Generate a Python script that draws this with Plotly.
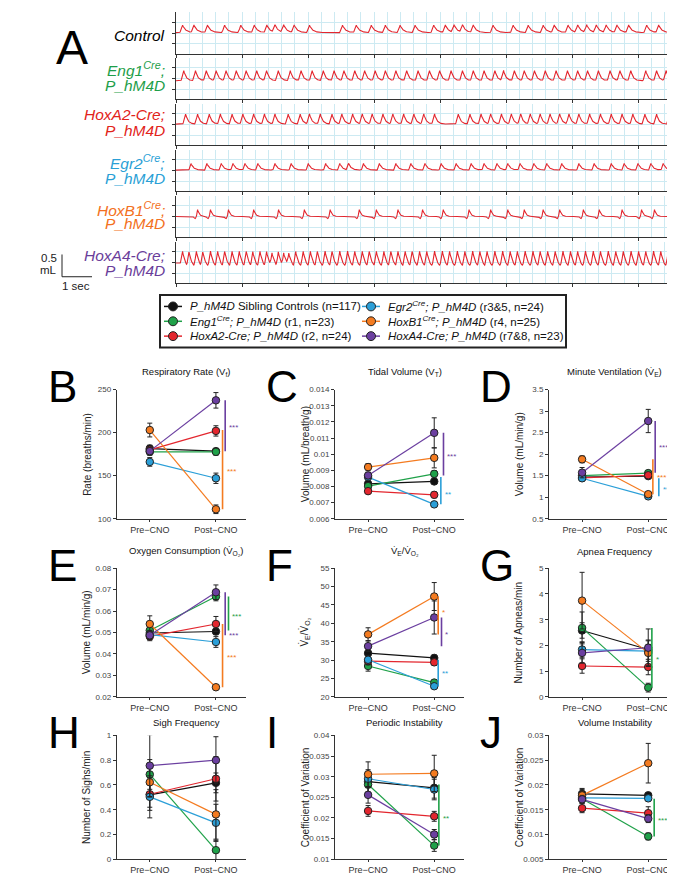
import numpy as np
import plotly.graph_objects as go

W, H = 675, 875
FONT = "Liberation Sans, Arial, Helvetica, sans-serif"

# ---------------- Panel A: breath peak times (s) ----------------
trace_peaks = [
    [0.22, 0.60, 1.05, 1.62, 2.16, 2.61, 3.03, 3.30, 3.59, 3.94, 4.45, 5.55, 6.01, 6.51, 6.98,
     7.47, 7.97, 8.59, 8.98, 9.27, 9.55, 9.91, 10.57, 11.24, 11.74, 12.24, 12.61, 13.07, 13.39,
     13.69, 14.01, 14.34, 14.70, 15.09, 15.69, 16.09, 16.52],
    [0.26, 0.65, 1.01, 1.34, 1.67, 2.01, 2.34, 2.69, 3.02, 3.41, 3.81, 4.17, 4.54, 4.91, 5.27,
     5.60, 5.96, 6.29, 6.64, 6.98, 7.33, 7.69, 8.07, 8.45, 8.79, 9.17, 9.55, 9.91, 10.27, 10.63,
     10.92, 11.28, 11.61, 11.95, 12.31, 12.67, 13.05, 13.39, 13.72, 14.08, 14.47, 14.80, 15.16,
     15.66, 16.02, 16.34, 16.67],
    [0.32, 0.72, 1.11, 1.48, 1.87, 2.23, 2.59, 2.95, 3.30, 3.74, 4.14, 4.45, 4.81, 5.20, 5.53,
     5.89, 6.21, 6.54, 6.90, 7.23, 7.59, 7.93, 8.26, 8.62, 9.41, 9.80, 10.17, 10.49, 10.85,
     11.18, 11.49, 11.81, 12.14, 12.47, 12.79, 13.10, 13.43, 13.79, 14.15, 14.51, 14.87, 15.23,
     15.63, 16.02, 16.45, 16.81],
    [0.50, 1.03, 1.51, 1.90, 2.30, 2.73, 3.30, 3.84, 4.41, 4.99, 5.46, 5.75, 6.25, 6.78, 7.33,
     7.83, 8.30, 8.84, 9.34, 9.84, 10.27, 10.70, 11.06, 11.47, 11.93, 12.36, 12.86, 13.43,
     13.94, 14.51, 14.94, 15.40, 15.83, 16.24, 16.67],
    [0.72, 1.15, 1.75, 2.59, 3.42, 4.28, 5.14, 6.11, 6.68, 7.40, 8.22, 8.91, 9.77, 10.49, 11.06,
     11.61, 12.24, 12.79, 13.58, 14.11, 14.87, 15.52, 15.95, 16.81],
    [0.22, 0.43, 0.68, 0.89, 1.15, 1.39, 1.62, 1.87, 2.11, 2.34, 2.56, 2.80, 3.02, 3.20, 3.41,
     3.59, 3.76, 3.99, 4.24, 4.48, 4.71, 4.97, 5.20, 5.46, 5.72, 5.96, 6.21, 6.44, 6.68, 6.93,
     7.16, 7.40, 7.64, 7.87, 8.12, 8.36, 8.62, 8.88, 9.12, 9.38, 9.63, 9.89, 10.13, 10.37,
     10.63, 10.89, 11.14, 11.38, 11.64, 11.90, 12.14, 12.39, 12.64, 12.90, 13.15, 13.39, 13.65,
     13.91, 14.15, 14.41, 14.66, 14.91, 15.17, 15.42, 15.66, 15.92, 16.16, 16.41, 16.67],
]
trace_amp = [0.17, 0.23, 0.23, 0.15, 0.16, 0.27]      # peak height (mL)
trace_base = [0.01, -0.05, 0.01, 0.0, -0.01, -0.02]    # baseline (mL)

trace_label_lines = [
    ["<i>Control</i>"],
    ["<i>Eng1<sup>Cre</sup>;</i>", "<i>P_hM4D</i>"],
    ["<i>HoxA2-Cre;</i>", "<i>P_hM4D</i>"],
    ["<i>Egr2<sup>Cre</sup>;</i>", "<i>P_hM4D</i>"],
    ["<i>HoxB1<sup>Cre</sup>;</i>", "<i>P_hM4D</i>"],
    ["<i>HoxA4-Cre;</i>", "<i>P_hM4D</i>"],
]

# ---------------- Groups ----------------
group_names = [
    "<i>P_hM4D</i> Sibling Controls (n=117)",
    "<i>Eng1<sup>Cre</sup>; P_hM4D</i> (r1, n=23)",
    "<i>HoxA2-Cre; P_hM4D</i> (r2, n=24)",
    "<i>Egr2<sup>Cre</sup>; P_hM4D</i> (r3&amp;5, n=24)",
    "<i>HoxB1<sup>Cre</sup>; P_hM4D</i> (r4, n=25)",
    "<i>HoxA4-Cre; P_hM4D</i> (r7&amp;8, n=23)",
]
group_colors = ["#111111", "#1fa149", "#e3262e", "#2b9fd8", "#f47b20", "#6b3fa0"]
label_colors = ["#000000", "#1e9e4a", "#e2231a", "#2a9fd6", "#f37021", "#6a3d9a"]
conditions = ["Pre\u2212CNO", "Post\u2212CNO"]

# order: Control, Eng1, HoxA2, Egr2, HoxB1, HoxA4
rate_pre = [181.5, 177.7, 180.0, 166.0, 203.0, 178.5]
rate_pre_se = [4, 4, 4, 5, 8, 4]
rate_post = [178.5, 177.7, 202.0, 147.0, 111.0, 237.5]
rate_post_se = [3, 4, 6, 6, 5, 9]

tv_pre = [0.00816, 0.00802, 0.00771, 0.00858, 0.00920, 0.00868]
tv_pre_se = [0.00015, 0.00015, 0.00012, 0.0002, 0.00022, 0.0002]
tv_post = [0.00831, 0.00878, 0.00748, 0.00689, 0.00977, 0.01132]
tv_post_se = [0.00015, 0.0002, 0.00018, 0.00012, 0.00062, 0.00093]

mv_pre = [1.47, 1.50, 1.45, 1.44, 1.88, 1.57]
mv_pre_se = [0.05, 0.05, 0.05, 0.06, 0.08, 0.12]
mv_post = [1.49, 1.56, 1.51, 1.02, 1.07, 2.77]
mv_post_se = [0.05, 0.06, 0.06, 0.04, 0.05, 0.27]

vo2_pre = [0.0498, 0.0510, 0.0482, 0.0490, 0.0540, 0.0487]
vo2_pre_se = [0.0015, 0.002, 0.002, 0.002, 0.0038, 0.002]
vo2_post = [0.0505, 0.0668, 0.0540, 0.0456, 0.0245, 0.0688]
vo2_post_se = [0.0015, 0.002, 0.0035, 0.0025, 0.001, 0.0034]

ratio_pre = [31.9, 28.4, 29.7, 30.1, 37.0, 33.8]
ratio_pre_se = [1.0, 1.4, 1.0, 1.2, 1.8, 1.5]
ratio_post = [30.6, 23.9, 29.4, 22.9, 47.3, 41.6]
ratio_post_se = [0.8, 0.6, 0.8, 0.6, 3.8, 4.5]

apnea_pre = [2.58, 2.68, 1.20, 1.84, 3.74, 1.71]
apnea_pre_se = [0.3, 0.62, 0.28, 0.3, 1.1, 0.4]
apnea_post = [1.84, 0.36, 1.16, 1.78, 1.71, 1.91]
apnea_post_se = [0.2, 0.17, 0.3, 0.4, 0.5, 0.73]

sigh_pre = [0.52, 0.685, 0.525, 0.504, 0.622, 0.756]
sigh_pre_se = [0.1, 0.12, 0.13, 0.17, 0.12, 0.25]
sigh_post = [0.617, 0.073, 0.65, 0.294, 0.362, 0.80]
sigh_post_se = [0.08, 0.08, 0.18, 0.15, 0.2, 0.19]

pi_pre = [0.0288, 0.0281, 0.0217, 0.0295, 0.0306, 0.0256]
pi_pre_se = [0.0025, 0.0025, 0.0013, 0.0022, 0.003, 0.002]
pi_post = [0.0273, 0.0133, 0.0204, 0.0269, 0.0308, 0.0160]
pi_post_se = [0.0025, 0.0014, 0.0012, 0.0025, 0.0044, 0.0012]

vi_pre = [0.0182, 0.0172, 0.0153, 0.0174, 0.0179, 0.0171]
vi_pre_se = [0.0011, 0.0008, 0.0009, 0.0008, 0.0012, 0.0008]
vi_post = [0.0179, 0.0096, 0.0143, 0.0173, 0.0244, 0.0132]
vi_post_se = [0.0006, 0.0007, 0.0013, 0.0005, 0.004, 0.0008]

# significance: (group index, stars, bar x offset, star position along bar from pre to post)
panels = [
    dict(letter="B", title="Respiratory Rate (V<sub>f</sub>)", ytitle="Rate (breaths/min)",
         pre=rate_pre, pre_se=rate_pre_se, post=rate_post, post_se=rate_post_se,
         yrange=[100, 250], tickvals=[100, 150, 200, 250], ticktext=["100", "150", "200", "250"],
         sig=[(4, "***", 0.10, 0.5), (5, "***", 0.14, 0.5)]),
    dict(letter="C", title="Tidal Volume (V<sub>T</sub>)", ytitle="Volume (mL/breath/g)",
         pre=tv_pre, pre_se=tv_pre_se, post=tv_post, post_se=tv_post_se,
         yrange=[0.006, 0.014],
         tickvals=[0.006, 0.007, 0.008, 0.009, 0.010, 0.011, 0.012, 0.013, 0.014],
         ticktext=["0.006", "0.007", "0.008", "0.009", "0.01", "0.011", "0.012", "0.013", "0.014"],
         sig=[(3, "**", 0.10, 0.55), (5, "***", 0.14, 0.5)]),
    dict(letter="D", title="Minute Ventilation (V\u0307<sub>E</sub>)", ytitle="Volume (mL/min/g)",
         pre=mv_pre, pre_se=mv_pre_se, post=mv_post, post_se=mv_post_se,
         yrange=[0.5, 3.5], tickvals=[0.5, 1, 1.5, 2, 2.5, 3, 3.5],
         ticktext=["0.5", "1", "1.5", "2", "2.5", "3", "3.5"],
         sig=[(4, "***", 0.07, 0.46), (5, "***", 0.105, 0.52), (3, "**", 0.16, 0.5)]),
    dict(letter="E", title="Oxygen Consumption (V\u0307<sub>O\u2082</sub>)", ytitle="Volume (mL/min/g)",
         pre=vo2_pre, pre_se=vo2_pre_se, post=vo2_post, post_se=vo2_post_se,
         yrange=[0.02, 0.08], tickvals=[0.02, 0.03, 0.04, 0.05, 0.06, 0.07, 0.08],
         ticktext=["0.02", "0.03", "0.04", "0.05", "0.06", "0.07", "0.08"],
         sig=[(4, "***", 0.10, 0.5), (5, "***", 0.14, 0.04), (1, "***", 0.19, 0.48)]),
    dict(letter="F", title="V\u0307<sub>E</sub>/V\u0307<sub>O\u2082</sub>",
         ytitle="V\u0307<sub>E</sub>/V\u0307<sub>O\u2082</sub>",
         pre=ratio_pre, pre_se=ratio_pre_se, post=ratio_post, post_se=ratio_post_se,
         yrange=[20, 55], tickvals=[20, 25, 30, 35, 40, 45, 50, 55],
         ticktext=["20", "25", "30", "35", "40", "45", "50", "55"],
         sig=[(4, "*", 0.06, 0.63), (5, "*", 0.11, 0.49), (3, "**", 0.06, 0.46)]),
    dict(letter="G", title="Apnea Frequency", ytitle="Number of Apneas/min",
         pre=apnea_pre, pre_se=apnea_pre_se, post=apnea_post, post_se=apnea_post_se,
         yrange=[0, 5], tickvals=[0, 1, 2, 3, 4, 5], ticktext=["0", "1", "2", "3", "4", "5"],
         sig=[(1, "*", 0.055, 0.5)]),
    dict(letter="H", title="Sigh Frequency", ytitle="Number of Sighs/min",
         pre=sigh_pre, pre_se=sigh_pre_se, post=sigh_post, post_se=sigh_post_se,
         yrange=[0, 1], tickvals=[0, 0.2, 0.4, 0.6, 0.8, 1],
         ticktext=["0", "0.2", "0.4", "0.6", "0.8", "1"], sig=[]),
    dict(letter="I", title="Periodic Instability", ytitle="Coefficient of Variation",
         pre=pi_pre, pre_se=pi_pre_se, post=pi_post, post_se=pi_post_se,
         yrange=[0.01, 0.04], tickvals=[0.01, 0.015, 0.02, 0.025, 0.03, 0.035, 0.04],
         ticktext=["0.01", "0.015", "0.02", "0.025", "0.03", "0.035", "0.04"],
         sig=[(1, "**", 0.07, 0.52)]),
    dict(letter="J", title="Volume Instability", ytitle="Coefficient of Variation",
         pre=vi_pre, pre_se=vi_pre_se, post=vi_post, post_se=vi_post_se,
         yrange=[0.005, 0.03], tickvals=[0.005, 0.01, 0.015, 0.02, 0.025, 0.03],
         ticktext=["0.005", "0.01", "0.015", "0.02", "0.025", "0.03"],
         sig=[(1, "***", 0.09, 0.53)]),
]

# ---------------- helpers / styles ----------------
def X(px):
    return px / W


def Y(py):
    return 1 - py / H


def axname(n):
    return "" if n == 1 else str(n)


GRID = "#cdeaf2"
AXC = "#333333"
TRACE_RED = "#e3262e"
# breath waveform style per row: (rise s, decay tau s, undershoot, pre-dip)
wave_style = [(0.10, 0.10, 0.0, 0.0), (0.10, 0.08, 0.0, 0.0), (0.10, 0.08, 0.0, 0.0),
              (0.08, 0.09, 0.0, 0.0), (0.05, 0.06, 0.0, 0.3), (0.08, 0.06, 0.25, 0.0)]

fig = go.Figure()
layout = dict(width=W, height=H, margin=dict(l=0, r=0, t=0, b=0),
              paper_bgcolor="white", plot_bgcolor="white", showlegend=False,
              hovermode=False, font=dict(family=FONT, color="#222"))
ann = []
shapes = []

# ---------------- Panel A traces ----------------
row_tops = [0.5, 46.5, 93, 139, 185.5, 232]
row_h = 41.5
trace_left = 168
t = np.round(np.arange(0, 16.905, 0.01), 3)
for i in range(6):
    n = i + 1
    a = axname(n)
    rise, tau, under, predip = wave_style[i]
    amp = trace_amp[i]
    y = np.full(t.shape, float(trace_base[i]))
    for p in trace_peaks[i]:
        u = t - p
        m = (u > -rise) & (u <= 0)
        y[m] += amp * (1 + u[m] / rise) ** 1.3
        m = u > 0
        y[m] += amp * np.exp(-u[m] / tau)
        if under:
            y += -under * amp * np.exp(-((u - 2.5 * tau) / tau) ** 2)
        if predip:
            y += -predip * amp * np.exp(-((u + rise + 0.04) / 0.04) ** 2)
    fig.add_trace(go.Scatter(x=t, y=y, mode="lines", line=dict(color=TRACE_RED, width=1.1),
                             xaxis="x" + a, yaxis="y" + a, hoverinfo="skip"))
    top = row_tops[i]
    layout["xaxis" + a] = dict(domain=[X(trace_left), 1], range=[0, 16.9], anchor="y" + a,
                               showline=True, linecolor=AXC, linewidth=1, ticks="outside",
                               ticklen=3, tickcolor=AXC, tick0=0, dtick=2.2,
                               showticklabels=False, showgrid=True, gridcolor=GRID, gridwidth=1,
                               minor=dict(dtick=0.44, showgrid=True, gridcolor=GRID, ticks=""),
                               zeroline=False, fixedrange=True)
    layout["yaxis" + a] = dict(domain=[Y(top + row_h), Y(top)], range=[-0.47, 0.47],
                               anchor="x" + a, showline=True, linecolor=AXC, linewidth=1,
                               ticks="outside", ticklen=3, tickcolor=AXC, tick0=0, dtick=0.25,
                               showticklabels=False, showgrid=True, gridcolor=GRID,
                               zeroline=False, fixedrange=True)

# trace labels
label_y = [[23.3], [57.3, 74.0], [104.0, 120.0], [151.7, 168.3], [199.3, 214.0], [246.0, 260.7]]
for i, lines in enumerate(trace_label_lines):
    for txt, yy in zip(lines, label_y[i]):
        ann.append(dict(text=txt, x=X(159), y=Y(yy), xref="paper", yref="paper",
                        xanchor="right", yanchor="middle", showarrow=False,
                        font=dict(size=15.5, color=label_colors[i], family=FONT)))

ann.append(dict(text="A", x=X(63.5), y=Y(36), xref="paper", yref="paper", xanchor="center",
                yanchor="middle", showarrow=False, font=dict(size=48, color="black", family=FONT)))

# scale bar
shapes.append(dict(type="line", xref="paper", yref="paper", x0=X(54), x1=X(54), y0=Y(245), y1=Y(267.5),
                   line=dict(color="#222", width=1)))
shapes.append(dict(type="line", xref="paper", yref="paper", x0=X(54), x1=X(84), y0=Y(267.5), y1=Y(267.5),
                   line=dict(color="#222", width=1)))
for txt, xx, yy, anc in [("0.5", 51, 249, "right"), ("mL", 51, 260.5, "right"), ("1 sec", 68, 276.5, "center")]:
    ann.append(dict(text=txt, x=X(xx), y=Y(yy), xref="paper", yref="paper", xanchor=anc,
                    yanchor="middle", showarrow=False, font=dict(size=11.5, color="#222", family=FONT)))

# ---------------- Legend (drawn) ----------------
shapes.append(dict(type="rect", xref="paper", yref="paper", x0=X(152), x1=X(558), y0=Y(339), y1=Y(286),
                   line=dict(color="#222", width=2), fillcolor="rgba(0,0,0,0)"))
leg_pos = [(165, 297.5), (165, 312.5), (165, 327.5), (363, 297.5), (363, 312.5), (363, 327.5)]
for g in range(6):
    cx, cy = leg_pos[g]
    shapes.append(dict(type="line", xref="paper", yref="paper", x0=X(cx - 9), x1=X(cx + 9),
                       y0=Y(cy), y1=Y(cy), line=dict(color=group_colors[g], width=1.5)))
    shapes.append(dict(type="circle", xref="paper", yref="paper", x0=X(cx - 4.5), x1=X(cx + 4.5),
                       y0=Y(cy + 4.5), y1=Y(cy - 4.5), fillcolor=group_colors[g],
                       line=dict(color="#222", width=1)))
    ann.append(dict(text=group_names[g], x=X(cx + 15), y=Y(cy), xref="paper", yref="paper",
                    xanchor="left", yanchor="middle", showarrow=False,
                    font=dict(size=11.5, color="#111", family=FONT)))

# ---------------- Panels B-J ----------------
col_left = [108.7, 327.0, 541.0]
col_w = 129.0
row_span = [(381.5, 512.0), (562.0, 692.0), (731.0, 856.0)]
title_y = [363.5, 545.0, 718.0]
title_dx = [5, 5, 1]
draw_order = [0, 1, 2, 3, 4, 5]

for k, pnl in enumerate(panels):
    n = 7 + k
    a = axname(n)
    r, c = divmod(k, 3)
    L = col_left[c]
    top, bot = row_span[r]
    layout["xaxis" + a] = dict(domain=[X(L), X(L + col_w)], range=[-0.5, 1.45], anchor="y" + a,
                               tickvals=[0, 1], ticktext=conditions, showline=True, linecolor=AXC,
                               linewidth=1, ticks="outside", ticklen=2, tickcolor=AXC,
                               tickfont=dict(size=9, color="#333", family=FONT),
                               showgrid=False, zeroline=False, fixedrange=True)
    layout["yaxis" + a] = dict(domain=[Y(bot), Y(top)], range=pnl["yrange"], anchor="x" + a,
                               tickvals=pnl["tickvals"], ticktext=pnl["ticktext"], showline=True,
                               linecolor=AXC, linewidth=1, ticks="outside", ticklen=3, tickcolor=AXC,
                               tickfont=dict(size=8, color="#444", family=FONT),
                               showgrid=False, zeroline=False, fixedrange=True)
    for g in draw_order:
        fig.add_trace(go.Scatter(
            x=[0, 1], y=[pnl["pre"][g], pnl["post"][g]], mode="lines+markers",
            line=dict(color=group_colors[g], width=1.2),
            marker=dict(size=7.5, color=group_colors[g], line=dict(color="#222", width=1)),
            error_y=dict(type="data", array=[pnl["pre_se"][g], pnl["post_se"][g]],
                         color="#222", thickness=1, width=2.5),
            xaxis="x" + a, yaxis="y" + a, hoverinfo="skip", cliponaxis=False))
    for g, stars, off, frac in pnl["sig"]:
        y0, y1 = pnl["pre"][g], pnl["post"][g]
        fig.add_trace(go.Scatter(x=[1 + off, 1 + off], y=[y0, y1], mode="lines",
                                 line=dict(color=group_colors[g], width=1.6),
                                 xaxis="x" + a, yaxis="y" + a, hoverinfo="skip", cliponaxis=False))
        ann.append(dict(text=stars, x=1 + off + 0.03, y=y0 + frac * (y1 - y0), xref="x" + a,
                        yref="y" + a, xanchor="left", yanchor="middle", yshift=-2, showarrow=False,
                        font=dict(size=8, color=group_colors[g], family=FONT)))
    # panel title
    ann.append(dict(text=pnl["title"], x=X(L + col_w / 2 + title_dx[c]), y=Y(title_y[r]), xref="paper",
                    yref="paper", xanchor="center", yanchor="middle", showarrow=False,
                    font=dict(size=9.5, color="#111", family=FONT)))
    # y title
    ann.append(dict(text=pnl["ytitle"], x=X(L - 30), y=Y((top + bot) / 2), xref="paper",
                    yref="paper", xanchor="center", yanchor="middle", textangle=-90,
                    showarrow=False, font=dict(size=10, color="#222", family=FONT)))
    # panel letter
    ann.append(dict(text=pnl["letter"], x=X(L - 71), y=Y(top - 3), xref="paper", yref="paper",
                    xanchor="left", yanchor="middle", showarrow=False,
                    font=dict(size=44, color="black", family=FONT)))

layout["annotations"] = ann
layout["shapes"] = shapes
fig.update_layout(**layout)
fig.write_html("out.html")
